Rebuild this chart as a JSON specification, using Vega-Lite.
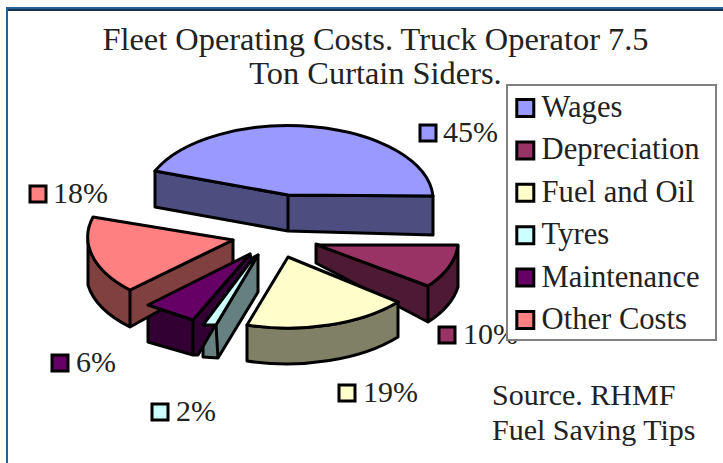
{
"$schema":"https://vega.github.io/schema/vega-lite/v6.json",
"width":723,"height":463,"padding":0,"autosize":"none","background":"white",
"config":{"view":{"stroke":null},"font":"Liberation Serif"},
"title":{"text":["Fleet Operating Costs. Truck Operator 7.5","Ton Curtain Siders."],"font":"Liberation Serif","fontSize":32.4,"fontWeight":"normal","color":"#222222","anchor":"middle","frame":"group","lineHeight":34,"dx":14,"dy":90,"offset":0},
"data":{"values":[
{"slice":"Wages","share":0.45},
{"slice":"Depreciation","share":0.10},
{"slice":"Fuel and Oil","share":0.19},
{"slice":"Tyres","share":0.02},
{"slice":"Maintenance","share":0.06},
{"slice":"Other Costs","share":0.18}]},
"layer":[
{"data":{"values":[{"edge":"top and left"}]},
 "mark":{"type":"point","filled":true,"opacity":1,"strokeWidth":0,"fill":"#2a5f96","shape":"M6 7H723V9H8V463H6Z"},
 "encoding":{"x":{"value":0},"y":{"value":0},"size":{"value":4}}},
{"data":{"values":[{"edge":"top inner"}]},
 "mark":{"type":"point","filled":true,"opacity":1,"strokeWidth":0,"fill":"#15324f","shape":"M8 9H723V11H8Z"},
 "encoding":{"x":{"value":0},"y":{"value":0},"size":{"value":4}}},
{"mark":{"type":"point","filled":true,"opacity":1,"stroke":"black","strokeWidth":3,"strokeJoin":"round"},
 "encoding":{"x":{"value":0},"y":{"value":0},"size":{"value":4},
  "shape":{"field":"slice","type":"nominal","legend":null,"scale":{"domain":["Wages","Depreciation","Fuel and Oil","Tyres","Maintenance","Other Costs"],"range":[
   "M155 171L288 195L433 196V235L288 231L155 207ZM288 195V231",
   "M316 244V263L428 322A145 75 0 0 0 458 287V246A145 75 0 0 1 428 286ZM428 286V322",
   "M247 325A145 75 0 0 0 398 302V337A145 75 0 0 1 247 361Z",
   "M203 325H216L258 255V292L218 358L203 357ZM216 325L218 358",
   "M148 305L193 320L250 254L252 262L198 355H193L148 342ZM193 320V355",
   "M130 290L233 240V270L130 327A145 75 0 0 1 88 285V240A145 75 0 0 0 130 290ZM130 290V327"]}},
  "fill":{"field":"slice","type":"nominal","legend":null,"scale":{"domain":["Wages","Depreciation","Fuel and Oil","Tyres","Maintenance","Other Costs"],"range":["#4d4d80","#4d1933","#808066","#668080","#330033","#804040"]}}}},
{"mark":{"type":"point","filled":true,"opacity":1,"stroke":"black","strokeWidth":3,"strokeJoin":"round"},
 "encoding":{"x":{"value":0},"y":{"value":0},"size":{"value":4},
  "shape":{"field":"slice","type":"nominal","legend":null,"scale":{"domain":["Wages","Depreciation","Fuel and Oil","Tyres","Maintenance","Other Costs"],"range":[
   "M288 195L155 171A145 75 0 0 1 433 196Z",
   "M317 245H458A145 75 0 0 1 428 286Z",
   "M288 257L398 302A145 75 0 0 1 247 325Z",
   "M254 257L258 255L216 325H203Z",
   "M250 254L193 320L148 305Z",
   "M233 240L93 217A145 75 0 0 0 130 290Z"]}},
  "color":{"field":"slice","type":"nominal","scale":{"domain":["Wages","Depreciation","Fuel and Oil","Tyres","Maintenance","Other Costs"],"range":["#9999ff","#993366","#ffffcc","#ccffff","#660066","#ff8080"]},
   "legend":{"title":null,"orient":"none","legendX":510,"legendY":93,"symbolType":"square","symbolSize":289,"symbolStrokeColor":"black","symbolStrokeWidth":3,"labelFont":"Liberation Serif","labelFontSize":30.6,"labelColor":"#222222","labelLimit":200,"labelOffset":1,"rowPadding":11.4,"clipHeight":30,"padding":0}}}},
{"mark":{"type":"point","shape":"square","filled":true,"opacity":1,"stroke":"black","strokeWidth":3},
 "encoding":{
  "x":{"field":"share","type":"quantitative","axis":null,"scale":{"domain":[0.02,0.06,0.10,0.18,0.19,0.45],"range":[160,60,447,38,347,428],"zero":false,"nice":false}},
  "y":{"field":"share","type":"quantitative","axis":null,"scale":{"domain":[0.02,0.06,0.10,0.18,0.19,0.45],"range":[412,363,335,194,393,133],"zero":false,"nice":false}},
  "size":{"value":256},
  "color":{"field":"slice","type":"nominal"}}},
{"mark":{"type":"text","align":"left","baseline":"middle","font":"Liberation Serif","fontSize":30,"color":"#222222"},
 "encoding":{
  "x":{"field":"share","type":"quantitative","axis":null,"scale":{"domain":[0.02,0.06,0.10,0.18,0.19,0.45],"range":[176,76,463,53,363,443],"zero":false,"nice":false}},
  "y":{"field":"share","type":"quantitative","axis":null,"scale":{"domain":[0.02,0.06,0.10,0.18,0.19,0.45],"range":[412,363,335,194,393,133],"zero":false,"nice":false}},
  "text":{"field":"share","type":"quantitative","format":".0%"}}},
{"data":{"values":[{"box":"legend frame"}]},
 "mark":{"type":"point","filled":true,"opacity":1,"fill":"white","stroke":"#808080","strokeWidth":2,"shape":"M507 85H716V340H507Z"},
 "encoding":{"x":{"value":0},"y":{"value":0},"size":{"value":4}}},
{"data":{"values":[{"note":"source"}]},
 "mark":{"type":"text","align":"left","baseline":"middle","font":"Liberation Serif","fontSize":30,"color":"#222222","lineHeight":35},
 "encoding":{"x":{"value":492},"y":{"value":396},"text":{"value":["Source. RHMF","Fuel Saving Tips"]}}}
],
"resolve":{"scale":{"x":"independent","y":"independent","fill":"independent","shape":"independent"}}
}
